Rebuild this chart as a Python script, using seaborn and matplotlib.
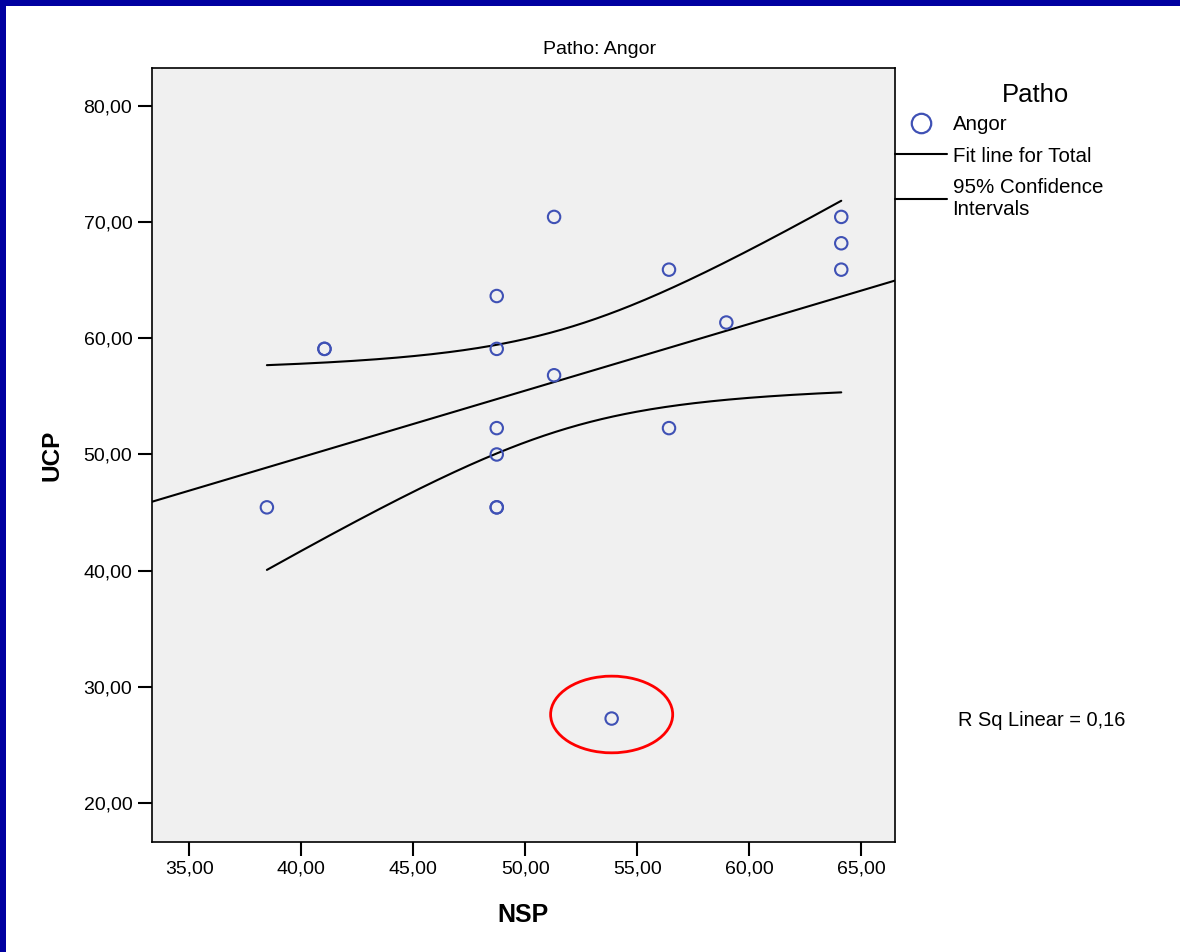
import numpy as np
import pandas as pd
import matplotlib
matplotlib.use("Agg")
import matplotlib.pyplot as plt
from matplotlib.lines import Line2D
from matplotlib.patches import Ellipse, Rectangle
import seaborn as sns

# ---- data ----
nsp = [38.46, 41.03, 41.03, 48.72, 48.72, 48.72, 48.72, 48.72, 48.72,
       51.28, 51.28, 53.85, 56.41, 56.41, 58.97, 64.10, 64.10, 64.10]
ucp = [45.45, 59.09, 59.09, 63.64, 59.09, 52.27, 50.00, 45.45, 45.45,
       70.45, 56.82, 27.27, 65.91, 52.27, 61.36, 70.45, 68.18, 65.91]
outlier = (53.85, 27.27)
x_ticks = [35, 40, 45, 50, 55, 60, 65]
x_tick_labels = ["35,00", "40,00", "45,00", "50,00", "55,00", "60,00", "65,00"]
y_ticks = [20, 30, 40, 50, 60, 70, 80]
y_tick_labels = ["20,00", "30,00", "40,00", "50,00", "60,00", "70,00", "80,00"]
r_sq_text = "R Sq Linear = 0,16"
t_crit = 1.746

df = pd.DataFrame({"NSP": nsp, "UCP": ucp, "Patho": "Angor"})

sns.set_style("white")
plt.rcParams["font.family"] = ["Liberation Sans", "DejaVu Sans"]
plt.rcParams["text.color"] = "black"
plt.rcParams["axes.labelcolor"] = "black"

fig = plt.figure(figsize=(11.8, 9.52), dpi=100)
ax = fig.add_axes([0.1286, 0.1155, 0.6299, 0.8131])
ax.set_facecolor("#F0F0F0")
ax.set_xlim(33.32, 66.5)
ax.set_ylim(16.64, 83.27)

# fit line across whole axis
sns.regplot(data=df, x="NSP", y="UCP", scatter=False, ci=None, truncate=False,
            ax=ax, line_kws=dict(color="black", lw=1.5))

# confidence interval of the mean (lines)
x = np.array(nsp); y = np.array(ucp)
n = len(x)
b, a = np.polyfit(x, y, 1)
resid = y - (a + b * x)
s = np.sqrt(np.sum(resid ** 2) / (n - 2))
sxx = np.sum((x - x.mean()) ** 2)
xs = np.linspace(x.min(), x.max(), 200)
fit = a + b * xs
hw = t_crit * s * np.sqrt(1.0 / n + (xs - x.mean()) ** 2 / sxx)
ax.plot(xs, fit + hw, color="black", lw=1.5)
ax.plot(xs, fit - hw, color="black", lw=1.5)

# points
sns.scatterplot(data=df, x="NSP", y="UCP", ax=ax, s=80, marker="o",
                facecolor="none", edgecolor="#3F51B5", linewidth=1.5,
                legend=False, zorder=5)

# red ellipse around outlier
ax.add_patch(Ellipse((outlier[0], outlier[1] + 0.35), 5.45, 6.6,
                     fill=False, edgecolor="red", lw=2.0, zorder=6))

ax.set_xticks(x_ticks)
ax.set_xticklabels(x_tick_labels)
ax.set_yticks(y_ticks)
ax.set_yticklabels(y_tick_labels)
ax.tick_params(axis="both", direction="out", length=10, width=1.5,
               labelsize=14, colors="black", pad=4, bottom=True, left=True)
ax.tick_params(axis="x", pad=3)
for sp in ax.spines.values():
    sp.set_visible(True)
    sp.set_color("black")
    sp.set_linewidth(1.2)

ax.set_xlabel("NSP", fontsize=18, fontweight="bold", labelpad=19)
ax.set_ylabel("UCP", fontsize=17.5, fontweight="bold", labelpad=14)
fig.text(600 / 1180, 1 - 49 / 952, "Patho: Angor", fontsize=14,
         ha="center", va="center")

# legend
handles = [
    Line2D([], [], linestyle="none", marker="o", markersize=14,
           markerfacecolor="none", markeredgecolor="#3F51B5", markeredgewidth=1.6),
    Line2D([], [], color="black", lw=1.5),
    Line2D([], [], color="black", lw=1.5),
]
labels = ["Angor", "Fit line for Total", "95% Confidence\nIntervals"]
leg = ax.legend(handles, labels, loc="upper left", bbox_to_anchor=(1.0, 0.939),
                frameon=False, fontsize=14.8, handlelength=2.55, handletextpad=0.25,
                borderpad=0, borderaxespad=0, labelspacing=0.6)
fig.text(1036 / 1180, 1 - 95 / 952, "Patho", fontsize=18.5, ha="center", va="center")
fig.text(958 / 1180, 1 - 720 / 952, r_sq_text, fontsize=14.4, ha="left", va="center")

# blue frame strips (top and left)
fig.patches.append(Rectangle((0, 1 - 6 / 952), 1, 6 / 952, transform=fig.transFigure,
                             facecolor="#0000A0", edgecolor="none", zorder=10))
fig.patches.append(Rectangle((0, 0), 6 / 1180, 1, transform=fig.transFigure,
                             facecolor="#0000A0", edgecolor="none", zorder=10))

fig.savefig("out.png", dpi=100, facecolor="white")
